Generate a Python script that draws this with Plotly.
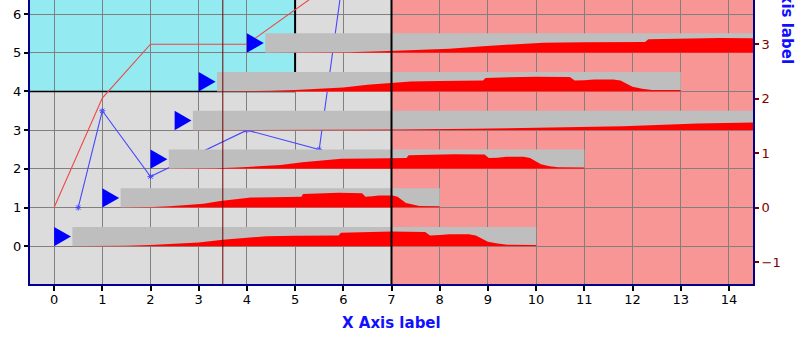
import plotly.graph_objects as go

# ---- data ----
red_x = [0, 1, 2, 4, 6]
red_y = [1, 3.83, 5.22, 5.22, 7.0]
blue_x = [0.5, 1, 2, 4, 5.5, 6]
blue_y = [1, 3.5, 1.8, 3, 2.5, 7.0]

bar_start = [0, 1, 2, 2.5, 3, 4]
bar_end = [10, 8, 11, 33.5, 13, 18]
bar_base = [0, 1, 2, 3, 4, 5]
bar_height = 0.5

profile_frac = [0, 0.07, 0.15, 0.20, 0.25, 0.30, 0.35, 0.40, 0.44, 0.50, 0.59, 0.595,
                0.62, 0.70, 0.77, 0.78, 0.80, 0.82, 0.86, 0.875, 0.90, 0.92, 0.94, 1.0]
profile_h = [0, 0, 0.015, 0.035, 0.06, 0.10, 0.17, 0.22, 0.26, 0.27, 0.28, 0.35,
             0.36, 0.38, 0.37, 0.28, 0.29, 0.31, 0.31, 0.28, 0.12, 0.07, 0.04, 0.035]

x_ticks = list(range(0, 15))
y_ticks = list(range(0, 7))
y2_ticks = [-1, 0, 1, 2, 3]

x_range = [-0.5, 14.5]
y_range = [-0.974, 6.362]
y2_range = [-1.398, 3.813]

FONT = "DejaVu Sans"
NAVY = "#00008B"
DARKRED = "#800000"

fig = go.Figure()

fig.add_trace(go.Scatter(x=red_x, y=red_y, mode="lines",
                         line=dict(color="#F04646", width=1.1), hoverinfo="skip"))
fig.add_trace(go.Scatter(x=blue_x, y=blue_y, mode="lines+markers",
                         line=dict(color="#4646FF", width=1.1),
                         marker=dict(symbol="asterisk-open", size=5,
                                     line=dict(color="#4646FF", width=1)),
                         hoverinfo="skip"))

tri_w = 0.35
gap = 0.38
for s, e, b in zip(bar_start, bar_end, bar_base):
    # gray bar
    fig.add_trace(go.Scatter(
        x=[s + gap, e, e, s + gap, s + gap],
        y=[b, b, b + bar_height, b + bar_height, b],
        mode="lines", fill="toself", fillcolor="#BEBEBE",
        line=dict(width=0, color="#BEBEBE"), hoverinfo="skip"))
    # red profile
    L = e - s
    px = [s + f * L for f in profile_frac]
    py = [b + h for h in profile_h]
    px = [px[0]] + px + [px[-1]]
    py = [b] + py + [b]
    fig.add_trace(go.Scatter(
        x=px, y=py, mode="lines", fill="toself", fillcolor="#FF0000",
        line=dict(width=0, color="#FF0000"), hoverinfo="skip"))
    # blue triangle
    fig.add_trace(go.Scatter(
        x=[s, s + tri_w, s, s],
        y=[b, b + bar_height / 2, b + bar_height, b],
        mode="lines", fill="toself", fillcolor="#0000FF",
        line=dict(width=0, color="#0000FF"), hoverinfo="skip"))

# dummy trace for y2 axis
fig.add_trace(go.Scatter(x=[None], y=[None], yaxis="y2", hoverinfo="skip"))

shapes = [
    dict(type="rect", xref="x", yref="y domain", x0=7, x1=14.5, y0=0, y1=1,
         fillcolor="#F89696", line=dict(width=0), layer="below"),
    dict(type="rect", xref="x", yref="y", x0=-0.5, x1=5, y0=4, y1=6.362,
         fillcolor="#93EAF0", line=dict(width=0), layer="below"),
    dict(type="line", xref="x", yref="y", x0=-0.5, x1=5, y0=4, y1=4,
         line=dict(color="black", width=1.5), layer="between"),
    dict(type="line", xref="x", yref="y", x0=5, x1=5, y0=4, y1=6.362,
         line=dict(color="black", width=2), layer="between"),
    dict(type="line", xref="x", yref="y domain", x0=3.5, x1=3.5, y0=0, y1=1,
         line=dict(color="#700000", width=1), layer="above"),
    dict(type="line", xref="x", yref="y domain", x0=7, x1=7, y0=0, y1=1,
         line=dict(color="black", width=2), layer="above"),
]

annotations = [
    dict(text="<b>X Axis label</b>", xref="paper", yref="paper", x=0.5, y=-0.138,
         xanchor="center", yanchor="middle", showarrow=False,
         font=dict(family=FONT, size=15, color="#1010FF")),
    dict(text="<b>Y2 axis label</b>", xref="paper", yref="paper", x=1.0477, y=0.9627,
         xanchor="center", yanchor="middle", showarrow=False, textangle=90,
         font=dict(family=FONT, size=15, color="#1010FF")),
]

fig.update_layout(
    width=803, height=344,
    margin=dict(l=30, r=50, t=0, b=60, pad=0),
    paper_bgcolor="white", plot_bgcolor="#DCDCDC",
    showlegend=False,
    font=dict(family=FONT, size=13, color="black"),
    shapes=shapes, annotations=annotations,
    xaxis=dict(range=x_range, tickvals=x_ticks, ticks="outside", ticklen=5, tickwidth=2,
               tickcolor="black", showline=True, linecolor=NAVY, linewidth=2,
               showgrid=True, gridcolor="#808080", gridwidth=1, zeroline=False,
               ticklabelstandoff=-3,
               tickfont=dict(family=FONT, size=13, color="black"), fixedrange=True),
    yaxis=dict(range=y_range, tickvals=y_ticks, ticks="outside", ticklen=4, tickwidth=2,
               tickcolor="black", showline=True, linecolor=NAVY, linewidth=2,
               showgrid=True, gridcolor="#808080", gridwidth=1, zeroline=False,
               tickfont=dict(family=FONT, size=13, color="black"), fixedrange=True),
    yaxis2=dict(range=y2_range, tickvals=y2_ticks, overlaying="y", side="right",
                ticks="outside", ticklen=4, tickwidth=2, tickcolor=DARKRED,
                showline=True, linecolor=NAVY, linewidth=2, showgrid=False,
                zeroline=False, tickfont=dict(family=FONT, size=13, color=DARKRED),
                fixedrange=True),
)

fig.write_html("out.html", config={"displayModeBar": False})
